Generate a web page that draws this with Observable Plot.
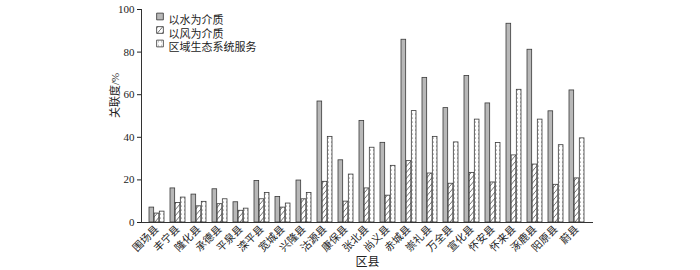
<!DOCTYPE html>
<html><head><meta charset="utf-8">
<script src="https://cdn.jsdelivr.net/npm/d3@7"></script>
<script src="https://cdn.jsdelivr.net/npm/@observablehq/plot@0.6"></script>
<style>body{margin:0;background:#fff}</style>
</head><body><div id="chart"></div>
<script>
const counties = ["围场县","丰宁县","隆化县","承德县","平泉县","滦平县","宽城县","兴隆县","沽源县","康保县","张北县","尚义县","赤城县","崇礼县","万全县","宣化县","怀安县","怀来县","涿鹿县","阳原县","蔚县"];
const seriesNames = ["以水为介质","以风为介质","区域生态系统服务"];
const water = [7.0, 16.0, 13.1, 15.6, 9.5, 19.5, 12.0, 19.7, 56.8, 29.2, 47.7, 37.4, 85.8, 67.9, 53.7, 68.8, 55.9, 93.3, 81.1, 52.2, 62.0];
const wind  = [4.2, 9.2, 7.6, 8.6, 5.5, 10.9, 7.0, 10.9, 19.1, 9.8, 16.0, 12.6, 28.8, 23.0, 18.2, 23.3, 18.8, 31.5, 27.2, 17.7, 20.7];
const eco   = [5.1, 11.7, 9.7, 10.9, 6.5, 13.9, 8.9, 13.9, 40.2, 22.5, 35.1, 26.6, 52.3, 40.2, 37.6, 48.3, 37.3, 62.3, 48.3, 36.3, 39.5];
const yTicks = [0, 20, 40, 60, 80, 100];
const xLabel = "区县";
const yLabel = "关联度/%";

const W = 700, H = 270, ML = 141, MR = 107, MT = 9, MB = 48;
const PIN = 0.28, POUT = 0.14;
const step = (W - ML - MR) / (counties.length - PIN + 2 * POUT);
const bw = step * (1 - PIN);
const fills = ["#b8b8b8", "url(#hatch)", "url(#dots)"];
const seriesValues = [water, wind, eco];
const FONT = "'Liberation Serif', 'Noto Sans CJK SC', serif";

const marks = [];
seriesValues.forEach((arr, i) => {
  const rows = counties.map((c, j) => ({county: c, series: seriesNames[i], value: arr[j]}));
  marks.push(Plot.barY(rows, {
    x: "county", y: "value", fill: fills[i], stroke: "#3a3a3a", strokeWidth: 0.8,
    insetLeft: i * bw / 3, insetRight: (2 - i) * bw / 3
  }));
});
marks.push(Plot.ruleY([0], {stroke: "#333", strokeWidth: 1}));
marks.push(Plot.frame({anchor: "left", stroke: "#333", strokeWidth: 1}));
marks.push(Plot.axisY({ticks: yTicks, tickSize: 4, tickPadding: 3, label: null, fontSize: 11}));
marks.push(Plot.axisX({tickSize: 0, tickRotate: -45, tickPadding: 5, label: null, fontSize: 10.5}));
seriesNames.forEach((name, i) => {
  marks.push(Plot.dot([name], {frameAnchor: "top-left", dx: 18.5, dy: 7 + 13.5 * i, symbol: "square", r: 3.8, fill: fills[i], stroke: "#333", strokeWidth: 0.8}));
  marks.push(Plot.text([name], {text: d => d, frameAnchor: "top-left", dx: 27, dy: 7 + 13.5 * i, textAnchor: "start", fontSize: 11, fill: "#222"}));
});
marks.push(Plot.text([xLabel], {text: d => d, frameAnchor: "bottom", dy: 43, fontSize: 12, fill: "#222"}));
marks.push(Plot.text([yLabel], {text: d => d, frameAnchor: "left", dx: -26, dy: 2, rotate: -90, fontSize: 11, fill: "#222"}));

const chart = Plot.plot({
  width: W, height: H,
  marginLeft: ML, marginRight: MR, marginTop: MT, marginBottom: MB,
  style: {fontFamily: FONT, fontSize: "11px", color: "#222", background: "#fff"},
  x: {domain: counties, paddingInner: PIN, paddingOuter: POUT, axis: null},
  y: {domain: [0, 100], axis: null},
  marks
});

const defs = d3.select(chart).insert("defs", ":first-child");
const h = defs.append("pattern").attr("id", "hatch").attr("patternUnits", "userSpaceOnUse").attr("width", 5).attr("height", 6);
h.append("rect").attr("width", 5).attr("height", 6).attr("fill", "#fff");
h.append("path").attr("d", "M0,6L5,0").attr("stroke", "#333").attr("stroke-width", 0.7).attr("fill", "none");
const p = defs.append("pattern").attr("id", "dots").attr("patternUnits", "userSpaceOnUse").attr("width", 3).attr("height", 4);
p.append("rect").attr("width", 3).attr("height", 4).attr("fill", "#fff");
p.append("circle").attr("cx", 1.5).attr("cy", 2).attr("r", 0.55).attr("fill", "#777");

document.getElementById("chart").appendChild(chart);
</script>
</body></html>
